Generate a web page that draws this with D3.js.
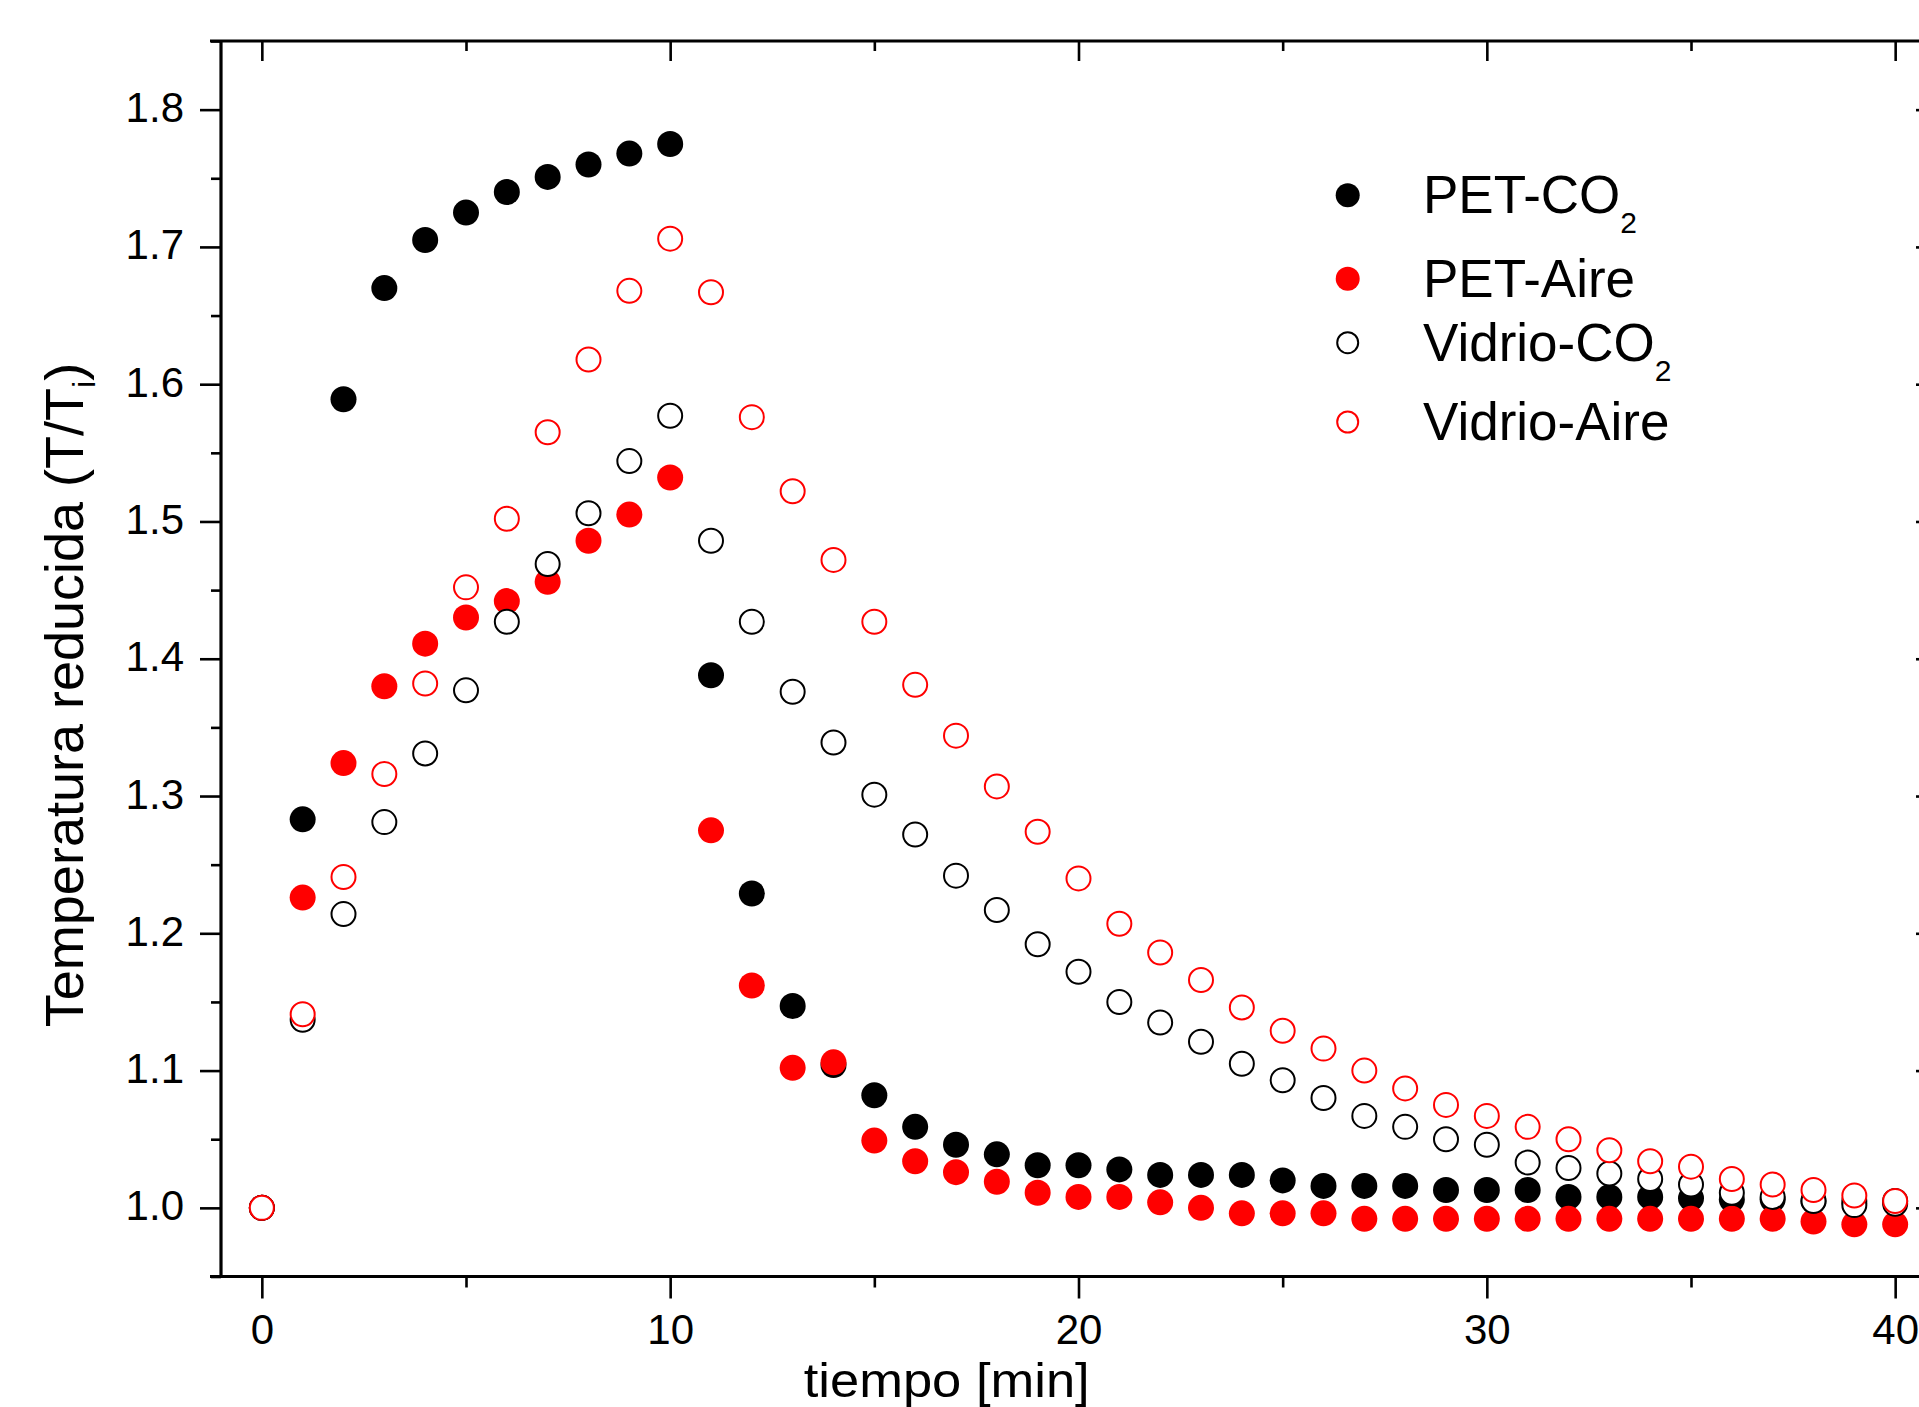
<!DOCTYPE html>
<html>
<head>
<meta charset="utf-8">
<script src="https://cdn.jsdelivr.net/npm/d3@7/dist/d3.min.js"></script>
<style>
  html, body { margin: 0; padding: 0; background: #fff; }
  svg { display: block; font-family: "Liberation Sans", Arial, sans-serif; }
</style>
</head>
<body>
<svg id="chart" width="1919" height="1407"></svg>
<script>
// ---- data ----
const tiempo = [0,1,2,3,4,5,6,7,8,9,10,11,12,13,14,15,16,17,18,19,20,21,22,23,24,25,26,27,28,29,30,31,32,33,34,35,36,37,38,39,40];
const petCO2 = [1.000,1.283,1.589,1.670,1.705,1.725,1.740,1.751,1.760,1.768,1.775,1.388,1.229,1.147,1.104,1.082,1.059,1.046,1.039,1.031,1.031,1.028,1.024,1.024,1.024,1.020,1.016,1.016,1.016,1.013,1.013,1.013,1.008,1.008,1.008,1.007,1.006,1.006,1.005,1.005,1.005];
const petAire = [1.000,1.226,1.324,1.380,1.411,1.430,1.442,1.456,1.486,1.505,1.532,1.275,1.162,1.102,1.106,1.049,1.034,1.026,1.019,1.011,1.008,1.008,1.004,1.000,0.996,0.996,0.996,0.992,0.992,0.992,0.992,0.992,0.992,0.992,0.992,0.992,0.992,0.992,0.990,0.988,0.988];
const vidrioCO2 = [1.000,1.137,1.214,1.281,1.331,1.377,1.427,1.469,1.506,1.544,1.577,1.486,1.427,1.376,1.339,1.301,1.272,1.242,1.217,1.192,1.172,1.150,1.135,1.121,1.105,1.093,1.080,1.067,1.059,1.050,1.046,1.033,1.029,1.025,1.021,1.017,1.011,1.008,1.005,1.002,1.003];
const vidrioAire = [1.000,1.141,1.241,1.316,1.382,1.452,1.502,1.565,1.618,1.668,1.706,1.667,1.576,1.522,1.472,1.427,1.381,1.344,1.307,1.274,1.240,1.207,1.186,1.166,1.146,1.129,1.116,1.100,1.087,1.075,1.067,1.059,1.050,1.042,1.034,1.030,1.021,1.017,1.013,1.009,1.005];

const seriesNames = ["PET-CO", "PET-Aire", "Vidrio-CO", "Vidrio-Aire"];
const seriesSubs = ["2", "", "2", ""];
const seriesValues = [petCO2, petAire, vidrioCO2, vidrioAire];
const seriesColors = ["#000000", "#ff0000", "#000000", "#ff0000"];
const seriesFilled = [true, true, false, false];

const xMajorTicks = [0, 10, 20, 30, 40];
const xMinorTicks = [5, 15, 25, 35];
const yMajorTicks = [1.0, 1.1, 1.2, 1.3, 1.4, 1.5, 1.6, 1.7, 1.8];
const yMinorTicks = [0.95, 1.05, 1.15, 1.25, 1.35, 1.45, 1.55, 1.65, 1.75, 1.85];

const xTitle = "tiempo [min]";
const yTitleMain = "Temperatura reducida (T/T";
const yTitleSub = "i";
const yTitleEnd = ")";

(function () {
// ---- layout ----
const pL = 221, pR = 1936, pT = 41, pB = 1276.5;
const svg = d3.select("#chart");
svg.append("rect").attr("width", 1919).attr("height", 1407).attr("fill", "#fff");

const x = d3.scaleLinear().domain([-1, 41]).range([pL, pR]);
const y = d3.scaleLinear().domain([0.95, 1.85]).range([pB, pT]);

const tickW = 2.6;

function styleAxis(g) {
  g.select(".domain").remove();
  g.selectAll(".tick line").attr("stroke", "#000").attr("stroke-width", tickW);
  g.selectAll("text").attr("fill", "#000").attr("font-size", 42)
    .attr("font-family", "'Liberation Sans', Arial, sans-serif");
}

// bottom
const gB = svg.append("g").attr("transform", `translate(0,${pB})`)
  .call(d3.axisBottom(x).tickValues(xMajorTicks).tickSize(22).tickFormat(d3.format("d")));
styleAxis(gB);
gB.selectAll("text").attr("dy", null).attr("y", 67.5);
const gBm = svg.append("g").attr("transform", `translate(0,${pB})`)
  .call(d3.axisBottom(x).tickValues(xMinorTicks).tickSize(11).tickFormat(""));
styleAxis(gBm);

// top (inward)
const gT = svg.append("g").attr("transform", `translate(0,${pT})`)
  .call(d3.axisTop(x).tickValues(xMajorTicks).tickSize(-20).tickFormat(""));
styleAxis(gT);
const gTm = svg.append("g").attr("transform", `translate(0,${pT})`)
  .call(d3.axisTop(x).tickValues(xMinorTicks).tickSize(-10).tickFormat(""));
styleAxis(gTm);

// left
const gL = svg.append("g").attr("transform", `translate(${pL},0)`)
  .call(d3.axisLeft(y).tickValues(yMajorTicks).tickSize(21).tickFormat(d3.format(".1f")));
styleAxis(gL);
gL.selectAll("text").attr("dy", null).attr("x", -37).attr("y", 12);
const gLm = svg.append("g").attr("transform", `translate(${pL},0)`)
  .call(d3.axisLeft(y).tickValues(yMinorTicks).tickSize(10).tickFormat(""));
styleAxis(gLm);

// right (inward)
const gR = svg.append("g").attr("transform", `translate(${pR},0)`)
  .call(d3.axisRight(y).tickValues(yMajorTicks).tickSize(-20).tickFormat(""));
styleAxis(gR);
const gRm = svg.append("g").attr("transform", `translate(${pR},0)`)
  .call(d3.axisRight(y).tickValues(yMinorTicks).tickSize(-10).tickFormat(""));
styleAxis(gRm);

// axis lines
const axW = 3.2;
svg.append("line").attr("x1", pL - 11).attr("x2", pR).attr("y1", pB).attr("y2", pB)
  .attr("stroke", "#000").attr("stroke-width", axW);
svg.append("line").attr("x1", pL - 11).attr("x2", pR).attr("y1", pT).attr("y2", pT)
  .attr("stroke", "#000").attr("stroke-width", axW);
svg.append("line").attr("x1", pL).attr("x2", pL).attr("y1", pT).attr("y2", pB)
  .attr("stroke", "#000").attr("stroke-width", axW);
svg.append("line").attr("x1", pR).attr("x2", pR).attr("y1", pT).attr("y2", pB)
  .attr("stroke", "#000").attr("stroke-width", axW);

// ---- data points ----
seriesValues.forEach((vals, si) => {
  const pts = tiempo.map((t, i) => ({ t, v: vals[i] }));
  svg.append("g").selectAll("circle").data(pts).join("circle")
    .attr("cx", d => x(d.t))
    .attr("cy", d => y(d.v))
    .attr("r", seriesFilled[si] ? 13 : 12)
    .attr("fill", seriesFilled[si] ? seriesColors[si] : "#fff")
    .attr("stroke", seriesFilled[si] ? "none" : seriesColors[si])
    .attr("stroke-width", 2);
});

// ---- titles ----
svg.append("text").attr("x", 946.7).attr("y", 1396.5)
  .attr("text-anchor", "middle").attr("font-size", 48).attr("fill", "#000")
  .attr("textLength", 286).attr("lengthAdjust", "spacingAndGlyphs")
  .text(xTitle);

const yt = svg.append("text").attr("transform", "translate(83,695) rotate(-90)")
  .attr("text-anchor", "middle").attr("font-size", 54).attr("fill", "#000");
yt.append("tspan").text(yTitleMain);
yt.append("tspan").attr("font-size", 32).attr("dy", 12).text(yTitleSub);
yt.append("tspan").attr("dy", -12).text(yTitleEnd);

// ---- legend ----
const legX = 1347.7, legTextX = 1423;
const legBaselines = [213.3, 296.7, 360.7, 440];
const legMarkerDy = -18;
seriesNames.forEach((name, i) => {
  const by = legBaselines[i];
  svg.append("circle").attr("cx", legX).attr("cy", by + legMarkerDy)
    .attr("r", seriesFilled[i] ? 12 : 10.5)
    .attr("fill", seriesFilled[i] ? seriesColors[i] : "#fff")
    .attr("stroke", seriesFilled[i] ? "none" : seriesColors[i])
    .attr("stroke-width", 2);
  const t = svg.append("text").attr("x", legTextX).attr("y", by)
    .attr("font-size", 53).attr("fill", "#000");
  t.append("tspan").text(name);
  if (seriesSubs[i]) {
    t.append("tspan").attr("font-size", 30).attr("dy", 20).text(seriesSubs[i]);
  }
});
})();
</script>
</body>
</html>
